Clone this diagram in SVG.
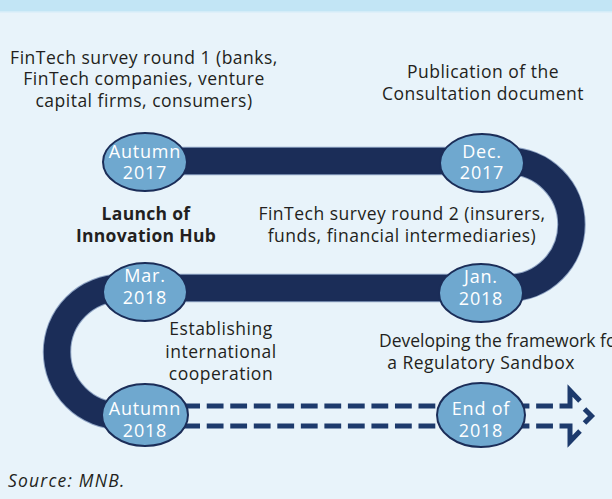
<svg xmlns="http://www.w3.org/2000/svg" width="612" height="499" viewBox="0 0 612 499">
<style>
.t{font-family:"Open Sans","Noto Sans",sans-serif;font-size:17.5px;letter-spacing:0.5px;fill:#231f20;text-anchor:middle}
.b{font-weight:bold;letter-spacing:0.3px}
.n{fill:#6fa8cf;stroke:#1b2d58;stroke-width:2}
.nt{font-family:"Open Sans","Noto Sans",sans-serif;font-size:18px;letter-spacing:0.8px;fill:#ffffff;text-anchor:middle}
.dash{fill:none;stroke:#1d3a6c;stroke-width:5;stroke-dasharray:16.8 6.73}
.ah{fill:none;stroke:#1d3a6c;stroke-width:5;stroke-linejoin:miter}
</style>
<rect x="0" y="0" width="612" height="499" fill="#e8f3fa"/>
<rect x="0" y="0" width="612" height="11.5" fill="#c2e5f5"/>
<line x1="0" y1="12" x2="612" y2="12" stroke="#d3ecf8" stroke-width="1"/>

<g id="connectors">
<path d="M145,161 H508 A63.5,63.5 0 0 1 508,288 H121 A64,64 0 0 0 121,416 H145" fill="none" stroke="#8ea3c3" stroke-width="28.5"/>
<path d="M145,161 H508 A63.5,63.5 0 0 1 508,288 H121 A64,64 0 0 0 121,416 H145" fill="none" stroke="#1b2d58" stroke-width="26.5"/>
<path class="dash" d="M183.2,406 H560"/>
<path class="dash" d="M183.2,426 H560"/>
<path class="ah" d="M559.8,406 H570 V390.5 L580,401"/>
<path class="ah" d="M559.8,426 H570 V441.5 L580,431"/>
<path class="ah" d="M584.5,409 L591.5,416 L584.5,423"/>
</g>

<g id="autumn2017">
<ellipse class="n" cx="145" cy="162" rx="42" ry="29"/>
<text class="nt" x="145" y="158">Autumn</text>
<text class="nt" x="145" y="179">2017</text>
</g>
<g id="dec2017">
<ellipse class="n" cx="482" cy="163" rx="42" ry="29"/>
<text class="nt" x="482" y="158">Dec.</text>
<text class="nt" x="482" y="179">2017</text>
</g>
<g id="mar2018">
<ellipse class="n" cx="145" cy="292" rx="42" ry="29"/>
<text class="nt" x="145" y="282">Mar.</text>
<text class="nt" x="145" y="304">2018</text>
</g>
<g id="jan2018">
<ellipse class="n" cx="481" cy="293" rx="42" ry="29"/>
<text class="nt" x="481" y="283">Jan.</text>
<text class="nt" x="481" y="305">2018</text>
</g>
<g id="autumn2018">
<ellipse class="n" cx="145" cy="415" rx="43" ry="31"/>
<text class="nt" x="145" y="415">Autumn</text>
<text class="nt" x="145" y="437">2018</text>
</g>
<g id="end2018">
<ellipse class="n" cx="481" cy="415" rx="44" ry="32"/>
<text class="nt" x="481" y="415">End of</text>
<text class="nt" x="481" y="437">2018</text>
</g>

<g id="labels">
<text class="t" x="144" y="64">FinTech survey round 1 (banks,</text>
<text class="t" x="144" y="85">FinTech companies, venture</text>
<text class="t" x="144" y="107">capital firms, consumers)</text>
<text class="t" x="483" y="78">Publication of the</text>
<text class="t" x="483" y="100">Consultation document</text>
<text class="t b" x="146" y="220">Launch of</text>
<text class="t b" x="146" y="242">Innovation Hub</text>
<text class="t" x="402" y="220">FinTech survey round 2 (insurers,</text>
<text class="t" x="402" y="242">funds, financial intermediaries)</text>
<text class="t" x="221" y="335">Establishing</text>
<text class="t" x="221" y="358">international</text>
<text class="t" x="221" y="380">cooperation</text>
<text class="t" x="379" y="347" style="text-anchor:start;letter-spacing:0">Developing the framework for</text>
<text class="t" x="481" y="369">a Regulatory Sandbox</text>
<text class="t" x="8" y="487" style="text-anchor:start;font-style:italic;letter-spacing:1.2px">Source: MNB.</text>
</g>
</svg>
